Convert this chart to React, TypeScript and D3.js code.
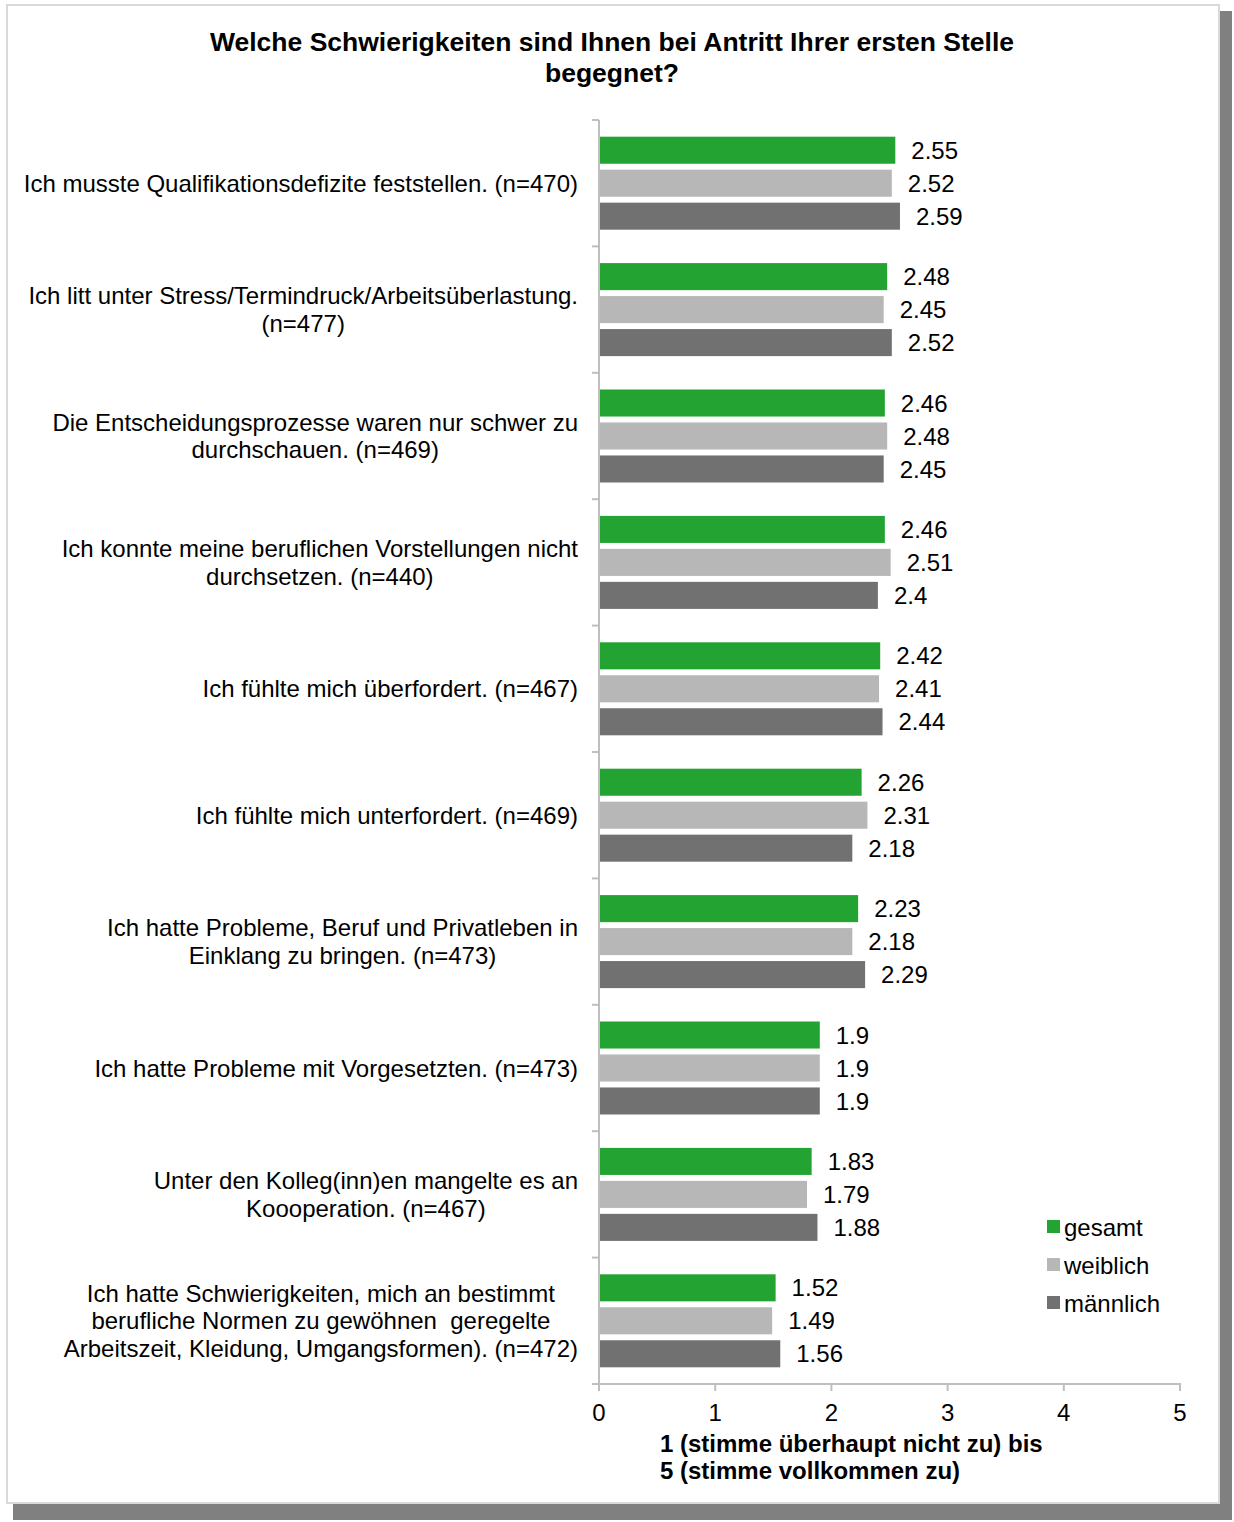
import React, { useEffect, useRef } from 'react';
import * as d3 from 'd3';

const categories: string[][] = [
  ['Ich musste Qualifikationsdefizite feststellen. (n=470)'],
  ['Ich litt unter Stress/Termindruck/Arbeitsüberlastung.', '(n=477)'],
  ['Die Entscheidungsprozesse waren nur schwer zu', 'durchschauen. (n=469)'],
  ['Ich konnte meine beruflichen Vorstellungen nicht', 'durchsetzen. (n=440)'],
  ['Ich fühlte mich überfordert. (n=467)'],
  ['Ich fühlte mich unterfordert. (n=469)'],
  ['Ich hatte Probleme, Beruf und Privatleben in', 'Einklang zu bringen. (n=473)'],
  ['Ich hatte Probleme mit Vorgesetzten. (n=473)'],
  ['Unter den Kolleg(inn)en mangelte es an', 'Koooperation. (n=467)'],
  ['Ich hatte Schwierigkeiten, mich an bestimmt', 'berufliche Normen zu gewöhnen  geregelte', 'Arbeitszeit, Kleidung, Umgangsformen). (n=472)'],
];

const seriesNames = ['gesamt', 'weiblich', 'männlich'];
const gesamt = [2.55, 2.48, 2.46, 2.46, 2.42, 2.26, 2.23, 1.9, 1.83, 1.52];
const weiblich = [2.52, 2.45, 2.48, 2.51, 2.41, 2.31, 2.18, 1.9, 1.79, 1.49];
const maennlich = [2.59, 2.52, 2.45, 2.4, 2.44, 2.18, 2.29, 1.9, 1.88, 1.56];
const xTicks = [0, 1, 2, 3, 4, 5];

const colors = ['#23a331', '#b7b7b7', '#717171'];
const FONT = "'Liberation Sans', Arial, sans-serif";
const FS = 24;

export default function App() {
  const svgRef = useRef<SVGSVGElement>(null);

  useEffect(() => {
    const svg = d3.select(svgRef.current);
    svg.selectAll('*').remove();

    const width = 1234;
    const height = 1522;
    const plot = { left: 599, right: 1180, top: 120, bottom: 1384 };

    // frame with shadow
    svg.append('rect').attr('x', 13).attr('y', 11).attr('width', 1219).attr('height', 1509).attr('fill', '#808080');
    svg.append('rect').attr('x', 7).attr('y', 5).attr('width', 1212).attr('height', 1498)
      .attr('fill', '#fff').attr('stroke', '#d9d9d9').attr('stroke-width', 2);

    const title = svg.append('text').attr('font-family', FONT).attr('font-size', 26.5)
      .attr('font-weight', 'bold').attr('text-anchor', 'middle');
    title.append('tspan').attr('x', 612).attr('y', 51).text('Welche Schwierigkeiten sind Ihnen bei Antritt Ihrer ersten Stelle');
    title.append('tspan').attr('x', 612).attr('y', 82).text('begegnet?');

    const x = d3.scaleLinear().domain([0, 5]).range([plot.left, plot.right]);
    const y = d3.scaleBand<number>().domain(d3.range(categories.length)).range([plot.top, plot.bottom]);
    const groupH = 93;
    const inner = d3.scaleBand<number>().domain([0, 1, 2]).range([0, groupH]).paddingInner(0.18);
    const series = [gesamt, weiblich, maennlich];

    // bars
    series.forEach((vals, si) => {
      const g = svg.append('g');
      g.selectAll('rect').data(vals).enter().append('rect')
        .attr('x', x(0) + 1)
        .attr('y', (d, i) => (y(i) as number) + (y.bandwidth() - groupH) / 2 + (inner(si) as number))
        .attr('width', d => x(d) - x(0) - 1)
        .attr('height', inner.bandwidth())
        .attr('fill', colors[si]);
      g.selectAll('text').data(vals).enter().append('text')
        .attr('x', d => x(d) + 16)
        .attr('y', (d, i) => (y(i) as number) + (y.bandwidth() - groupH) / 2 + (inner(si) as number) + inner.bandwidth() / 2)
        .attr('dy', '0.36em')
        .attr('font-family', FONT).attr('font-size', FS).attr('fill', '#000')
        .text(d => String(d));
    });

    // axes
    const axisColor = '#bfbfbf';
    svg.append('line').attr('x1', plot.left).attr('x2', plot.left).attr('y1', plot.top).attr('y2', plot.bottom)
      .attr('stroke', axisColor).attr('stroke-width', 2);
    svg.append('line').attr('x1', plot.left).attr('x2', plot.right + 1).attr('y1', plot.bottom).attr('y2', plot.bottom)
      .attr('stroke', axisColor).attr('stroke-width', 2);
    const bounds = d3.range(categories.length + 1).map(i => plot.top + i * y.step());
    svg.append('g').selectAll('line').data(bounds).enter().append('line')
      .attr('x1', plot.left - 7).attr('x2', plot.left).attr('y1', d => d).attr('y2', d => d)
      .attr('stroke', axisColor).attr('stroke-width', 2);
    svg.append('g').selectAll('line').data(xTicks).enter().append('line')
      .attr('x1', d => x(d)).attr('x2', d => x(d)).attr('y1', plot.bottom).attr('y2', plot.bottom + 7)
      .attr('stroke', axisColor).attr('stroke-width', 2);
    svg.append('g').selectAll('text').data(xTicks).enter().append('text')
      .attr('x', d => x(d)).attr('y', 1421).attr('text-anchor', 'middle')
      .attr('font-family', FONT).attr('font-size', FS).text(d => String(d));

    // category labels: block right-aligned, lines centered within block
    const ctx = document.createElement('canvas').getContext('2d') as CanvasRenderingContext2D;
    ctx.font = `${FS}px ${FONT}`;
    const lineH = 27.5;
    categories.forEach((lines, i) => {
      const w = d3.max(lines, l => ctx.measureText(l).width) as number;
      const cx = 578 - w / 2;
      const cy = (y(i) as number) + y.bandwidth() / 2;
      const t = svg.append('text').attr('font-family', FONT).attr('font-size', FS)
        .attr('text-anchor', 'middle').attr('xml:space', 'preserve').style('white-space', 'pre');
      lines.forEach((l, j) => {
        t.append('tspan').attr('x', cx)
          .attr('y', cy + (j - (lines.length - 1) / 2) * lineH)
          .attr('dy', '0.36em').text(l);
      });
    });

    // axis title
    const at = svg.append('text').attr('font-family', FONT).attr('font-size', FS).attr('font-weight', 'bold');
    at.append('tspan').attr('x', 660).attr('y', 1452).text('1 (stimme überhaupt nicht zu) bis');
    at.append('tspan').attr('x', 660).attr('y', 1479).text('5 (stimme vollkommen zu)');

    // legend
    const legend = svg.append('g').attr('transform', 'translate(1047,1227)');
    seriesNames.forEach((name, i) => {
      legend.append('rect').attr('x', 0).attr('y', i * 38 - 7).attr('width', 13).attr('height', 13).attr('fill', colors[i]);
      legend.append('text').attr('x', 17).attr('y', i * 38).attr('dy', '0.36em')
        .attr('font-family', FONT).attr('font-size', FS).text(name);
    });

    svg.attr('width', width).attr('height', height);
  }, []);

  return (
    <div style={{ position: 'absolute', left: 0, top: 0 }}>
      <svg ref={svgRef} width={1234} height={1522} style={{ display: 'block' }}></svg>
    </div>
  );
}
